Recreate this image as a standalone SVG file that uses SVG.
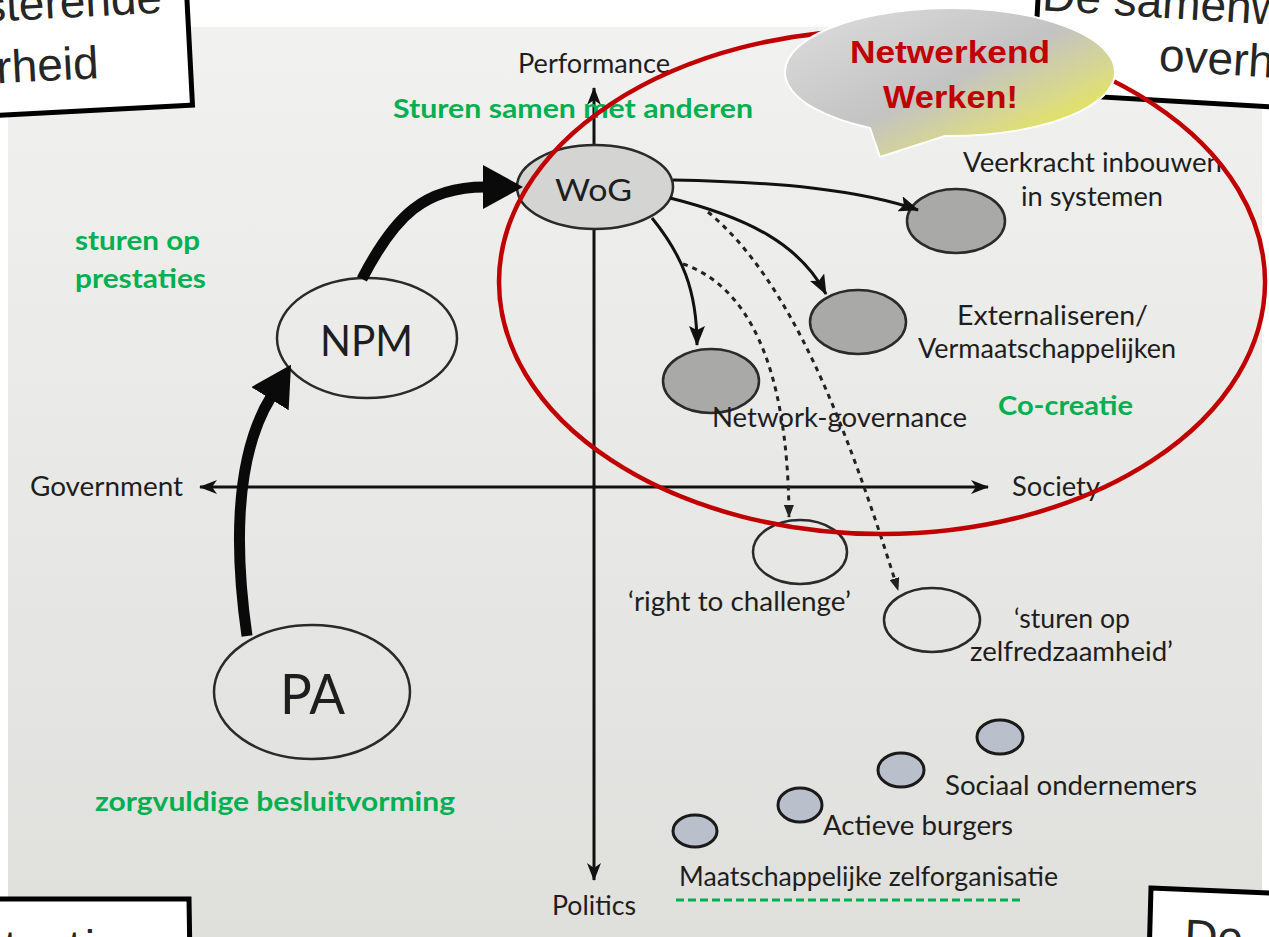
<svg xmlns="http://www.w3.org/2000/svg" width="1269" height="937" viewBox="0 0 1269 937">
<defs>
<linearGradient id="bg" x1="0" y1="0" x2="0" y2="1">
<stop offset="0" stop-color="#f1f1ef"/>
<stop offset="1" stop-color="#dfdfdc"/>
</linearGradient>
<linearGradient id="bubble" x1="0.1" y1="0.2" x2="0.9" y2="0.95">
<stop offset="0" stop-color="#d6d6d6"/>
<stop offset="0.45" stop-color="#c3c3c3"/>
<stop offset="0.72" stop-color="#d9d98a"/>
<stop offset="1" stop-color="#eeee33"/>
</linearGradient>
<marker id="thick" viewBox="0 0 40 44" refX="2" refY="22" markerWidth="40" markerHeight="44" markerUnits="userSpaceOnUse" orient="auto">
<path d="M0,0 L40,22 L0,44 Z" fill="#0a0a0a"/>
</marker>
<marker id="thin" viewBox="0 0 20 16" refX="19" refY="8" markerWidth="20" markerHeight="16" markerUnits="userSpaceOnUse" orient="auto">
<path d="M0,0 L20,8 L0,16 L4,8 Z" fill="#111"/>
</marker>
<marker id="dot" viewBox="0 0 13 10" refX="12" refY="5" markerWidth="13" markerHeight="10" markerUnits="userSpaceOnUse" orient="auto">
<path d="M0,0 L13,5 L0,10 Z" fill="#222"/>
</marker>
<marker id="axis" viewBox="0 0 18 14" refX="17" refY="7" markerWidth="18" markerHeight="14" markerUnits="userSpaceOnUse" orient="auto">
<path d="M0,0 L18,7 L0,14 L5,7 Z" fill="#111"/>
</marker>
</defs>
<style>
.lbl{font-family:Lato,"Noto Sans",sans-serif;fill:#1e1e1e;font-size:26px}
.wog{font-size:31px}
.npm{font-size:42px}
.pa{font-size:56px}
.grn{font-family:Lato,"Liberation Sans",sans-serif;font-weight:bold;fill:#00b050;font-size:27px}
.box{font-family:"Liberation Sans",Arial,sans-serif;fill:#262626;font-size:46px}
.bub{font-family:"Liberation Sans",Arial,sans-serif;font-weight:bold;font-size:32px;fill:#c00000}
.frame{fill:#fff;stroke:#000;stroke-width:5}
.ell{stroke:#2a2a2a;stroke-width:2.5}
.dark{fill:#a9a9a7}
.open{fill:none}
.small{fill:#b9bfcb;stroke:#1a1a1a;stroke-width:3}
.con{fill:none;stroke:#111;stroke-width:3}
.dotted{fill:none;stroke:#222;stroke-width:3;stroke-dasharray:5 5}
.fat{fill:none;stroke:#0a0a0a;stroke-width:11}
</style>
<rect width="1269" height="937" fill="#fff"/>
<rect x="8" y="27" width="1254" height="920" fill="url(#bg)"/>

<g id="axes">
<line x1="594" y1="487" x2="594" y2="88" stroke="#111" stroke-width="3" marker-end="url(#axis)"/>
<line x1="594" y1="487" x2="594" y2="880" stroke="#111" stroke-width="3" marker-end="url(#axis)"/>
<line x1="594" y1="487" x2="200" y2="487" stroke="#111" stroke-width="3" marker-end="url(#axis)"/>
<line x1="594" y1="487" x2="988" y2="487" stroke="#111" stroke-width="3" marker-end="url(#axis)"/>
<text class="lbl" x="518" y="73" textLength="152" lengthAdjust="spacingAndGlyphs">Performance</text>
<text class="lbl" x="30" y="496" textLength="153" lengthAdjust="spacingAndGlyphs">Government</text>
<text class="lbl" x="1012" y="496" textLength="88" lengthAdjust="spacingAndGlyphs">Society</text>
<text class="lbl" x="552" y="915" textLength="84" lengthAdjust="spacingAndGlyphs">Politics</text>
</g>

<g id="box-topleft" transform="rotate(-3 100 60)">
<path class="frame" d="M -30 -20 L 190 -20 L 190 110 L -30 110 Z"/>
<text class="box" x="-14" y="16">sterende</text>
<text class="box" x="-4" y="78">rheid</text>
</g>
<g id="box-topright">
<path class="frame" d="M 1039 -20 L 1290 -20 L 1290 108 L 1033 93 Z"/>
<text class="box" transform="rotate(3.5 1150 40)" x="1040" y="17">De samenw</text>
<text class="box" transform="rotate(3.5 1150 40)" x="1160" y="70">overh</text>
</g>
<g id="box-bottomleft">
<path class="frame" d="M -20 899 L 189 899 L 190 960 L -20 960 Z"/>
<text class="box" x="4" y="963" textLength="120" lengthAdjust="spacing">tratie</text>
</g>
<g id="box-bottomright">
<path class="frame" d="M 1151 888 L 1290 894 L 1290 960 L 1149 960 Z"/>
<text class="box" transform="rotate(2.4 1200 920)" x="1185" y="952">De</text>
</g>

<g id="node-wog">
<ellipse class="ell" cx="595" cy="187" rx="78" ry="42" fill="#d4d4d2"/>
<text class="lbl wog" x="555" y="201" textLength="77" lengthAdjust="spacingAndGlyphs">WoG</text>
</g>
<g id="node-npm">
<ellipse class="ell open" cx="367" cy="338" rx="90" ry="60"/>
<text class="lbl npm" x="320" y="356" textLength="93" lengthAdjust="spacingAndGlyphs">NPM</text>
</g>
<g id="node-pa">
<ellipse class="ell open" cx="312" cy="692" rx="98" ry="67"/>
<text class="lbl pa" x="280" y="714" textLength="65" lengthAdjust="spacingAndGlyphs">PA</text>
</g>
<g id="node-veerkracht">
<ellipse class="ell dark" cx="956" cy="221" rx="49" ry="32"/>
<text class="lbl" x="963" y="172" textLength="259" lengthAdjust="spacingAndGlyphs">Veerkracht inbouwen</text>
<text class="lbl" x="1021" y="206" textLength="142" lengthAdjust="spacingAndGlyphs">in systemen</text>
</g>
<g id="node-externaliseren">
<ellipse class="ell dark" cx="858" cy="322" rx="48" ry="32"/>
<text class="lbl" x="957" y="325" textLength="191" lengthAdjust="spacingAndGlyphs">Externaliseren/</text>
<text class="lbl" x="918" y="358" textLength="258" lengthAdjust="spacingAndGlyphs">Vermaatschappelijken</text>
</g>
<g id="node-network">
<ellipse class="ell dark" cx="711" cy="381" rx="48" ry="32"/>
<text class="lbl" x="712" y="427" textLength="255" lengthAdjust="spacingAndGlyphs">Network-governance</text>
</g>
<g id="node-challenge">
<ellipse class="ell open" cx="800" cy="552" rx="47" ry="32"/>
<text class="lbl" x="628" y="611" textLength="223" lengthAdjust="spacingAndGlyphs">‘right to challenge’</text>
</g>
<g id="node-zelfredzaamheid">
<ellipse class="ell open" cx="932" cy="620" rx="48" ry="32"/>
<text class="lbl" x="1014" y="628" textLength="116" lengthAdjust="spacingAndGlyphs">‘sturen op</text>
<text class="lbl" x="970" y="661" textLength="203" lengthAdjust="spacingAndGlyphs">zelfredzaamheid’</text>
</g>
<g id="node-zelforganisatie">
<ellipse class="small" cx="695" cy="831" rx="22" ry="16"/>
<text class="lbl" x="679" y="886" textLength="379" lengthAdjust="spacingAndGlyphs">Maatschappelijke zelforganisatie</text>
<line x1="676" y1="900" x2="1022" y2="900" stroke="#00b050" stroke-width="3" stroke-dasharray="8 4"/>
</g>
<g id="node-burgers">
<ellipse class="small" cx="800" cy="805" rx="22" ry="17"/>
<text class="lbl" x="823" y="835" textLength="190" lengthAdjust="spacingAndGlyphs">Actieve burgers</text>
</g>
<g id="node-ondernemers">
<ellipse class="small" cx="901" cy="770" rx="23" ry="17"/>
<ellipse class="small" cx="1000" cy="737" rx="23" ry="17"/>
<text class="lbl" x="945" y="795" textLength="252" lengthAdjust="spacingAndGlyphs">Sociaal ondernemers</text>
</g>

<g id="connectors">
<path class="fat" d="M 247 636 C 236 560, 232 460, 271 397" marker-end="url(#thick)"/>
<path class="fat" d="M 362 279 C 395 215, 425 187, 485 187" marker-end="url(#thick)"/>
<path class="con" d="M 673 180 C 780 182, 860 190, 918 210" marker-end="url(#thin)"/>
<path class="con" d="M 670 198 C 750 218, 800 245, 826 294" marker-end="url(#thin)"/>
<path class="con" d="M 652 218 C 682 255, 697 290, 697 345" marker-end="url(#thin)"/>
<path class="dotted" d="M 683 264 C 745 285, 788 360, 789 517" marker-end="url(#dot)"/>
<path class="dotted" d="M 708 212 C 790 280, 845 420, 898 590" marker-end="url(#dot)"/>
</g>

<g id="green-labels">
<text class="grn" x="393" y="118" textLength="360" lengthAdjust="spacingAndGlyphs">Sturen samen met anderen</text>
<text class="grn" x="75" y="250" textLength="125" lengthAdjust="spacingAndGlyphs">sturen op</text>
<text class="grn" x="75" y="288" textLength="131" lengthAdjust="spacingAndGlyphs">prestaties</text>
<text class="grn" x="95" y="811" textLength="360" lengthAdjust="spacingAndGlyphs">zorgvuldige besluitvorming</text>
<text class="grn" x="998" y="415" textLength="135" lengthAdjust="spacingAndGlyphs">Co-creatie</text>
</g>

<g id="highlight">
<ellipse cx="882" cy="282" rx="383" ry="252" fill="none" stroke="#c00000" stroke-width="4.5"/>
</g>

<g id="bubble">
<path d="M 870 128 L 880 157 L 945 136 A 165 64 0 1 0 870 128 Z" fill="url(#bubble)" stroke="#fff" stroke-width="2"/>
<text class="bub" x="850" y="63" textLength="200" lengthAdjust="spacingAndGlyphs">Netwerkend</text>
<text class="bub" x="883" y="108" textLength="135" lengthAdjust="spacingAndGlyphs">Werken!</text>
</g>
</svg>
